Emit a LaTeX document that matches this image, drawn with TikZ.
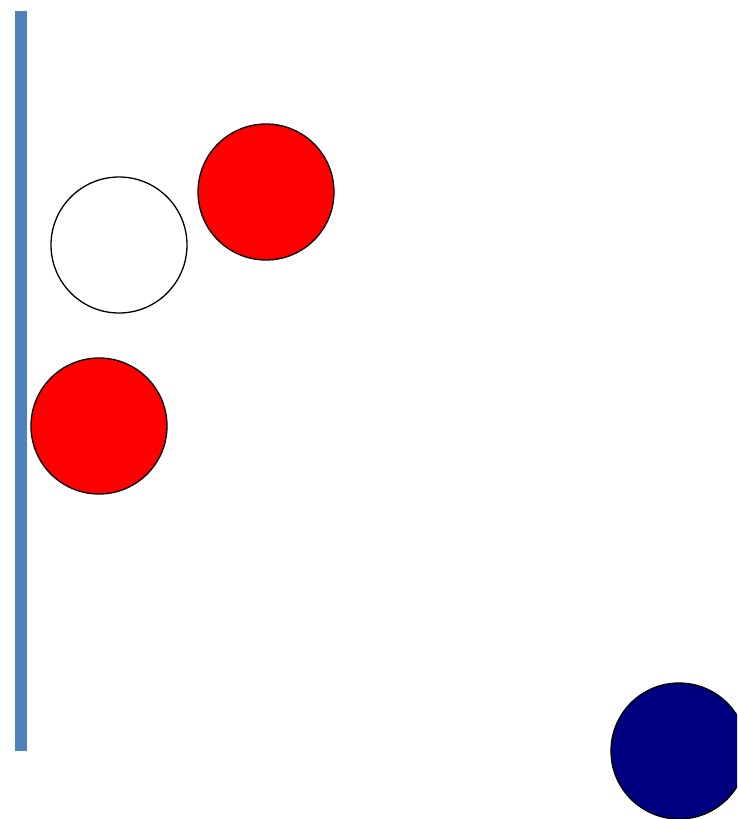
\documentclass[tikz,border=0pt]{standalone}
\definecolor{barblue}{HTML}{4F81BD}
\definecolor{navyc}{HTML}{000080}
\begin{document}
\begin{tikzpicture}[x=1pt,y=-1pt,
  ball/.style={circle,draw=black,line width=1.3pt,minimum size=136pt,inner sep=0pt}]
\useasboundingbox (0,0) rectangle (737,819);
\clip (0,0) rectangle (737,819);
\fill[barblue] (15,11) rectangle (27,751);
\node[ball,fill=white] (w) at (119,245) {};
\node[ball,fill=red] (r1) at (266,192) {};
\node[ball,fill=red] (r2) at (99,426) {};
\node[ball,fill=navyc] (n) at (679,751) {};
\end{tikzpicture}
\end{document}
